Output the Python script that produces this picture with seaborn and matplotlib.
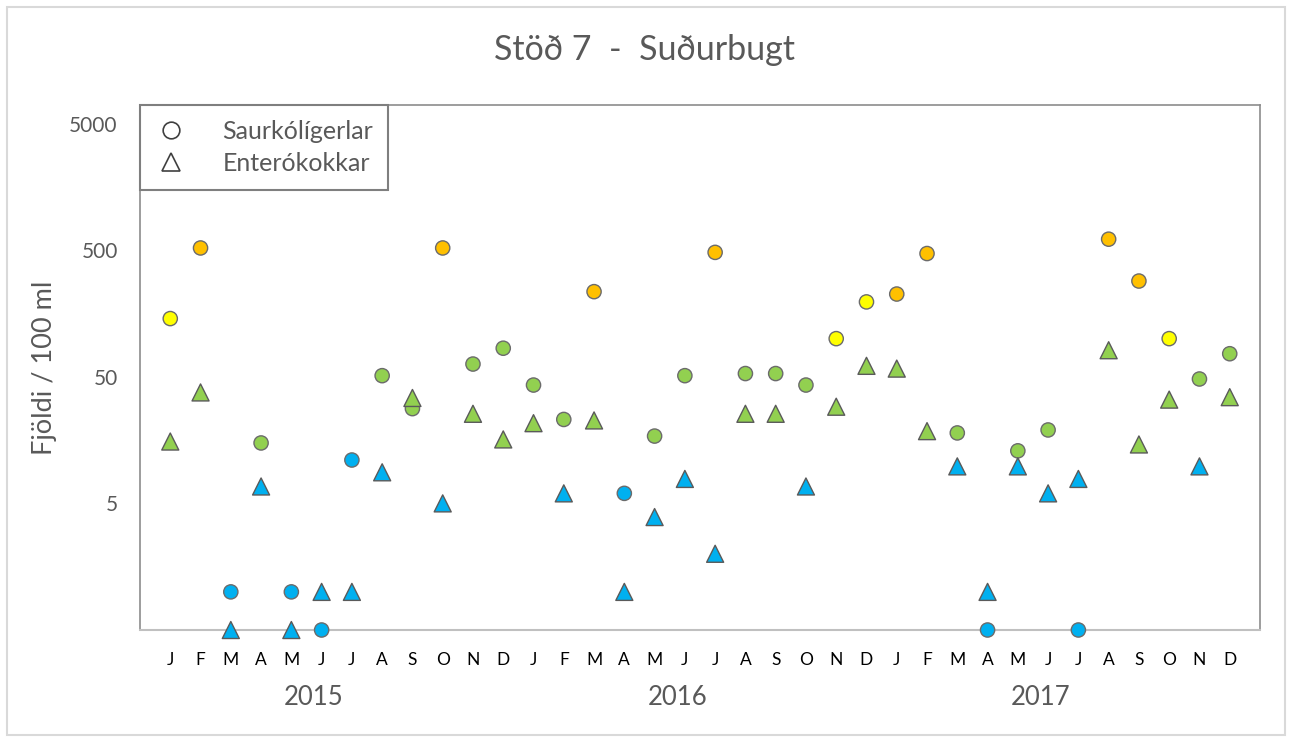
import pandas as pd
import matplotlib
matplotlib.use("Agg")
import matplotlib.pyplot as plt
import seaborn as sns
from matplotlib.lines import Line2D
from matplotlib.patches import Rectangle

# Monthly samples, station 7 (Jan 2015 - Dec 2017); values read at bottom = below detection
years = ["2015", "2016", "2017"]
month_letters = ["J", "F", "M", "A", "M", "J", "J", "A", "S", "O", "N", "D"]

saurkoli = [
    144, 520, 1, 15, 1, 0.5, 11, 51, 28, 520, 63, 84,
    43, 23, 235, 6, 17, 51, 480, 53, 53, 43, 100, 195,
    225, 470, 18, 0.5, 13, 19, 0.5, 610, 285, 100, 48, 76,
]
enterokokkar = [
    15.4, 37.6, 0.5, 6.8, 0.5, 1, 1, 8.8, 34, 5, 25.5, 16,
    21.5, 6, 22.6, 1, 3.9, 7.8, 2, 25.5, 25.5, 6.8, 29, 61,
    58, 18.6, 9.8, 1, 9.8, 6, 7.8, 81, 14.6, 33, 9.8, 34.5,
]

# quality classes -> colours
class_colors = {"blue": "#00B0F0", "green": "#92D050", "yellow": "#FFFF00", "orange": "#FFC000"}

def classify(v):
    if v < 12:
        return "blue"
    elif v < 100:
        return "green"
    elif v < 200:
        return "yellow"
    return "orange"

n = len(saurkoli)
df_s = pd.DataFrame({"idx": range(n), "value": saurkoli})
df_s["cls"] = df_s["value"].apply(classify)
df_e = pd.DataFrame({"idx": range(n), "value": enterokokkar})
df_e["cls"] = df_e["value"].apply(classify)

sns.set_style("white")
plt.rcParams["font.family"] = ["Lato", "DejaVu Sans"]
gray = "#595959"

fig = plt.figure(figsize=(12.89, 7.38), dpi=100)
ax = fig.add_axes([140 / 1289, 1 - 630 / 738, 1120 / 1289, 525 / 738])

sns.scatterplot(data=df_s, x="idx", y="value", hue="cls", palette=class_colors,
                marker="o", s=105, edgecolor="#6b6b6b", linewidth=1.0,
                legend=False, ax=ax, clip_on=False, zorder=3)
sns.scatterplot(data=df_e, x="idx", y="value", hue="cls", palette=class_colors,
                marker="^", s=150, edgecolor="#5a5a5a", linewidth=1.0,
                legend=False, ax=ax, clip_on=False, zorder=4)

ax.set_yscale("log")
ax.set_ylim(0.5, 7000)
ax.set_xlim(-1, n)
ax.set_yticks([5, 50, 500, 5000])
ax.set_yticklabels(["5", "50", "500", "5000"])
ax.minorticks_off()
ax.set_xticks(range(n))
ax.set_xticklabels(month_letters * len(years))
ax.tick_params(axis="x", length=0, pad=16, labelsize=12.5, labelcolor="#000000")
ax.tick_params(axis="y", length=0, pad=16, labelsize=15, labelcolor=gray)
ax.set_xlabel("")
ax.set_ylabel("Fjöldi / 100 ml", fontsize=19.5, color=gray, labelpad=9)

for side in ["left", "top", "right"]:
    ax.spines[side].set_color("#8c8c8c")
    ax.spines[side].set_linewidth(1.2)
ax.spines["bottom"].set_color("#c0c0c0")
ax.spines["bottom"].set_linewidth(1.5)

for i, yr in enumerate(years):
    ax.text(12 * i + 4.75, -0.128, yr, transform=ax.get_xaxis_transform(),
            ha="center", va="center", fontsize=18.5, color=gray)

fig.text(0.5, 1 - 50 / 738, "Stöð 7  -  Suðurbugt", ha="center", va="center",
         fontsize=24.5, color=gray)

handles = [
    Line2D([], [], linestyle="none", marker="o", markersize=12, markerfacecolor="none",
           markeredgecolor="#404040", markeredgewidth=1.2),
    Line2D([], [], linestyle="none", marker="^", markersize=13, markerfacecolor="none",
           markeredgecolor="#404040", markeredgewidth=1.2),
]
leg = ax.legend(handles, ["Saurkólígerlar", "Enterókokkar"], loc="upper left",
                bbox_to_anchor=(0, 1), borderaxespad=0, fancybox=False, framealpha=1,
                fontsize=18, labelcolor=gray, handletextpad=1.4, borderpad=0.6,
                labelspacing=0.35, handlelength=1.3)
leg.get_frame().set_edgecolor("#7f7f7f")
leg.get_frame().set_linewidth(1.5)
leg.set_zorder(5)

# outer chart frame
fig.patches.append(Rectangle((7 / 1289, 3 / 738), 1278 / 1289, 728 / 738,
                             transform=fig.transFigure, fill=False,
                             edgecolor="#d9d9d9", linewidth=1.5))

fig.savefig("out.png", dpi=100)
